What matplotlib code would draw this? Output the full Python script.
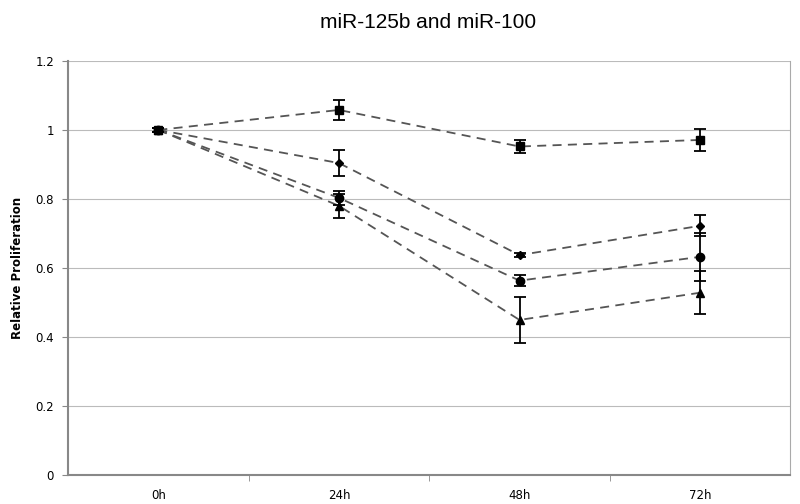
import matplotlib.pyplot as plt
from matplotlib.ticker import FixedLocator

# time points and values
timepoints = ['0h', '24h', '48h', '72h']

square_vals = [1.0, 1.058, 0.952, 0.971]
square_err = [0.005, 0.028, 0.02, 0.032]

diamond_vals = [1.0, 0.904, 0.637, 0.722]
diamond_err = [0.005, 0.039, 0.005, 0.03]

circle_vals = [1.0, 0.803, 0.563, 0.632]
circle_err = [0.005, 0.02, 0.015, 0.07]

triangle_vals = [1.0, 0.78, 0.449, 0.528]
triangle_err = [0.005, 0.035, 0.067, 0.062]

series = [
    (square_vals, square_err, 's'),
    (diamond_vals, diamond_err, 'D'),
    (circle_vals, circle_err, 'o'),
    (triangle_vals, triangle_err, '^'),
]

fig = plt.figure(figsize=(8, 5.04), dpi=100)
ax = fig.add_axes([0.085, 0.058, 0.903, 0.821])

x = list(range(len(timepoints)))
for vals, err, mk in series:
    # gray dashed connecting line
    ax.plot(x, vals, color='#555555', lw=1.3, linestyle=(0, (5, 3.5)), zorder=2)
    # black markers with error bars
    ax.errorbar(x, vals, yerr=err, fmt=mk, linestyle='none', color='black',
                ms=6 if mk != 'D' else 4.5, ecolor='black', elinewidth=1.3,
                capsize=4, capthick=1.3, zorder=3)

ax.set_xlim(-0.5, 3.5)
ax.set_ylim(0, 1.2)
ax.set_yticks([0, 0.2, 0.4, 0.6, 0.8, 1.0, 1.2])
ax.set_yticklabels(['0', '0.2', '0.4', '0.6', '0.8', '1', '1.2'])
ax.set_xticks(x)
ax.set_xticklabels(timepoints)
ax.xaxis.set_minor_locator(FixedLocator([0.5, 1.5, 2.5]))
ax.tick_params(axis='x', which='major', length=0, pad=10)
ax.tick_params(axis='x', which='minor', length=4, color='#888888')
ax.tick_params(axis='y', length=4, color='#888888', pad=6)
ax.tick_params(labelsize=8.5)

ax.yaxis.grid(True, color='#bbbbbb', lw=0.8)
ax.set_axisbelow(True)
for side in ['left', 'bottom']:
    ax.spines[side].set_color('#888888')
    ax.spines[side].set_linewidth(1.5)
ax.spines['right'].set_color('#aaaaaa')
ax.spines['top'].set_visible(False)

ax.set_ylabel('Relative Proliferation', fontsize=8.5, fontweight='bold', labelpad=8)
fig.text(0.535, 0.955, 'miR-125b and miR-100', ha='center', va='center',
         fontsize=15, family='Liberation Sans')

fig.savefig('out.png', dpi=100)
